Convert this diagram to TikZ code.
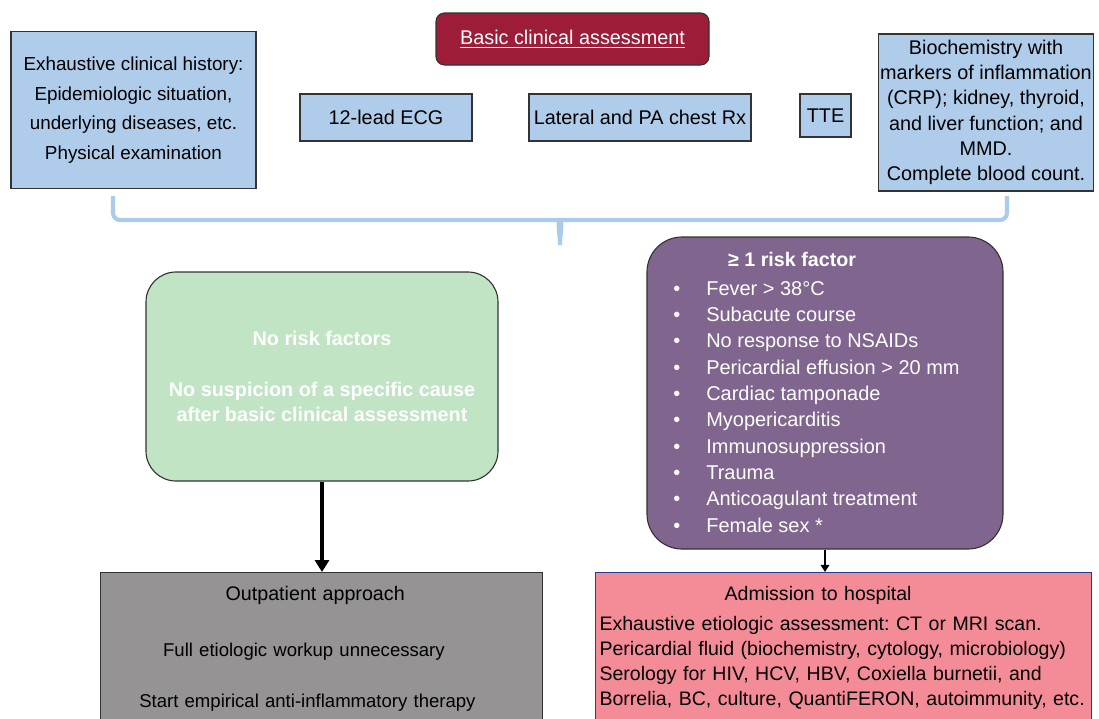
\documentclass[tikz,border=0pt]{standalone}
\usepackage{fontspec}
\setmainfont{Liberation Sans}
\usetikzlibrary{arrows.meta}
\frenchspacing

\definecolor{examblue}{HTML}{AFCCEA}
\definecolor{basicred}{HTML}{9D1C38}
\definecolor{norisk}{HTML}{C1E4C4}
\definecolor{risk}{HTML}{80668E}
\definecolor{outgray}{HTML}{959394}
\definecolor{admitpink}{HTML}{F48C98}
\definecolor{bracecol}{HTML}{ABCBEA}
\definecolor{admitline}{HTML}{2A3A8C}

\newcommand\txt{\fontsize{14.1}{18}\selectfont}

\tikzset{
  exam/.style={draw=black!80, fill=examblue, line width=0.8pt, align=center,
    font=\txt, inner sep=1pt},
  basicbox/.style={draw=black!80, fill=basicred, rounded corners=6pt, line width=0.8pt,
    text=white, font=\txt},
  riskbox/.style={draw=black!80, line width=0.8pt, rounded corners=#1},
  result/.style={anchor=north, line width=0.8pt, font=\txt, inner ysep=9.5pt}
}

\begin{document}
\begin{tikzpicture}[x=0.025cm, y=-0.025cm]
  \def\u{0.025cm} % one pixel of the reference
  \clip (0,0) rectangle (1099,718);

  % Basic clinical assessment
  \node (basic) [basicbox, minimum width=273*\u, minimum height=52*\u] at (572.5,39)
    {\underline{Basic clinical assessment}};

  % Exams
  \node (history) [exam, minimum width=245*\u, minimum height=157*\u,
    font={\fontsize{13.4}{21}\selectfont}] at (133.5,110)
    {Exhaustive clinical history:\\Epidemiologic situation,\\underlying diseases, etc.\\ Physical examination};
  \node (ecg) [exam, minimum width=172*\u, minimum height=47*\u] at (386,117.5) {12-lead ECG};
  \node (rx) [exam, minimum width=222*\u, minimum height=47*\u] at (640,117.5) {Lateral and PA chest Rx};
  \node (tte) [exam, minimum width=51*\u, minimum height=43*\u] at (825.5,115.5) {TTE};
  \node (lab) [exam, minimum width=214*\u, minimum height=157*\u] at (986,112.5)
    {Biochemistry with\\markers of inflammation\\(CRP); kidney, thyroid,\\and liver function; and\\MMD.\\ Complete blood count.};

  % Brace
  \begin{scope}[draw=bracecol, line width=2.9pt, rounded corners=5pt]
    \draw (113,196) -- (113,220) -- (553,220) to[out=0,in=90] (560,245);
    \draw (1007,196) -- (1007,220) -- (567,220) to[out=180,in=90] (560,245);
  \end{scope}

  % Risk stratification
  \node (norisk) [riskbox=30*\u, fill=norisk, minimum width=352*\u, minimum height=209*\u,
    text=white, align=center, font=\bfseries\fontsize{14.1}{17.7}\selectfont] at (322,376.5)
    {No risk factors\\[19pt]No suspicion of a specific cause\\after basic clinical assessment};
  \node (risk) [riskbox=35*\u, fill=risk, minimum width=356*\u, minimum height=312*\u] at (825,393) {};
  \node (risklist) [anchor=north west, inner sep=0pt, align=left, text=white,
    font={\fontsize{14.2}{18.75}\selectfont}] at (673,252)
    {\hspace*{39pt}{\fontsize{14}{18.6}\selectfont\textbf{≥ 1 risk factor}}\\[1.5pt]
     \makebox[23.5pt][l]{\textbullet}Fever > 38°C\\
     \makebox[23.5pt][l]{\textbullet}Subacute course\\
     \makebox[23.5pt][l]{\textbullet}No response to NSAIDs\\
     \makebox[23.5pt][l]{\textbullet}Pericardial effusion > 20 mm\\
     \makebox[23.5pt][l]{\textbullet}Cardiac tamponade\\
     \makebox[23.5pt][l]{\textbullet}Myopericarditis\\
     \makebox[23.5pt][l]{\textbullet}Immunosuppression\\
     \makebox[23.5pt][l]{\textbullet}Trauma\\
     \makebox[23.5pt][l]{\textbullet}Anticoagulant treatment\\
     \makebox[23.5pt][l]{\textbullet}Female sex *};

  % Outcomes
  \node (outpatient) [result, draw=black!80, fill=outgray, text width=314pt, align=center,
    inner xsep=0pt, font={\fontsize{13.2}{18}\selectfont}] at (321.5,572)
    {{\fontsize{14}{18}\selectfont Outpatient approach}\hspace*{9pt}\mbox{}\\[21.7pt]
     Full etiologic workup unnecessary\hspace*{25pt}\mbox{}\\[18.9pt]
     Start empirical anti-inflammatory therapy\hspace*{20pt}\mbox{}\\[30pt]\mbox{}};
  \node (admit) [result, draw=admitline, fill=admitpink, text width=347pt, align=left,
    inner xsep=2.6pt, font={\fontsize{13.9}{18}\selectfont}] at (843.5,572)
    {\hspace*{89pt}Admission to hospital\\[3.3pt]
     Exhaustive etiologic assessment: CT or MRI scan.\\
     Pericardial fluid (biochemistry, cytology, microbiology)\\
     Serology for HIV, HCV, HBV, Coxiella burnetii, and\\
     Borrelia, BC, culture, QuantiFERON, autoimmunity, etc.\\[20pt]\mbox{}};

  % Arrows
  \draw [line width=2.2pt, -{Triangle[width=10pt,length=8.5pt]}] (norisk.south) -- (norisk.south |- outpatient.north);
  \draw [line width=1.4pt, -{Triangle[width=6pt,length=5pt]}] (risk.south) -- (risk.south |- admit.north);
\end{tikzpicture}
\end{document}
